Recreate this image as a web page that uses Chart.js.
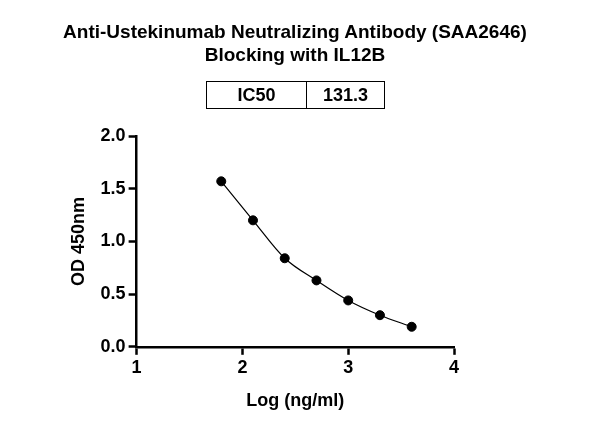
<!DOCTYPE html>
<html><head><meta charset="utf-8">
<script src="https://cdn.jsdelivr.net/npm/chart.js@4"></script>
<style>
body{margin:0;background:#fff;font-family:"Liberation Sans",Arial,sans-serif;}
#wrap{position:relative;width:590px;height:428px;}
#t{position:absolute;top:20px;left:0;width:590px;text-align:center;font-weight:bold;font-size:19px;line-height:23px;color:#000;}
#tb{position:absolute;left:206px;top:81px;width:177px;height:26px;border:1.5px solid #000;display:flex;font-weight:bold;font-size:18px;}
#tb div{display:flex;align-items:center;justify-content:center;}
</style></head><body>
<div id="wrap">
<canvas id="c" width="590" height="428"></canvas>
<div id="t">Anti-Ustekinumab Neutralizing Antibody (SAA2646)<br>Blocking with IL12B</div>
<div id="tb"><div style="width:99px;border-right:1.5px solid #000">IC50</div><div style="flex:1">131.3</div></div>
</div>
<script>
const logConc=[1.8,2.1,2.4,2.7,3.0,3.3,3.6];
const od=[1.57,1.20,0.84,0.63,0.44,0.30,0.19];
const xTicks=[1,2,3,4];
const yTicks=[0,0.5,1.0,1.5,2.0];
const pts=logConc.map((x,i)=>({x,y:od[i]}));
const f={family:"Liberation Sans",weight:'bold',size:18};
new Chart(document.getElementById('c'),{
 type:'scatter',
 data:{datasets:[
  {data:pts,showLine:true,cubicInterpolationMode:'monotone',borderColor:'#000',borderWidth:1.2,pointRadius:0},
  {data:pts,pointRadius:4.5,pointBackgroundColor:'#000',pointBorderColor:'#000'}
 ]},
 options:{responsive:false,animation:false,
  layout:{padding:{top:136,left:64,right:136,bottom:12}},
  plugins:{legend:{display:false},tooltip:{enabled:false}},
  scales:{
   x:{type:'linear',min:1,max:4,afterBuildTicks:a=>{a.ticks=xTicks.map(v=>({value:v}));},
    grid:{display:true,drawOnChartArea:false,drawTicks:true,tickLength:8,tickWidth:2.5,tickColor:'#000'},border:{color:'#000',width:2.5},
    ticks:{color:'#000',font:f,padding:2},
    title:{display:true,text:'Log (ng/ml)',color:'#000',font:f,padding:{top:10}}},
   y:{min:0,max:2,afterBuildTicks:a=>{a.ticks=yTicks.map(v=>({value:v}));},
    grid:{display:true,drawOnChartArea:false,drawTicks:true,tickLength:8,tickWidth:2.5,tickColor:'#000'},border:{color:'#000',width:2.5},
    ticks:{color:'#000',font:f,padding:3,callback:v=>v.toFixed(1)},
    title:{display:true,text:'OD 450nm',color:'#000',font:f,padding:{bottom:8}}}
  }}
});
</script></body></html>
